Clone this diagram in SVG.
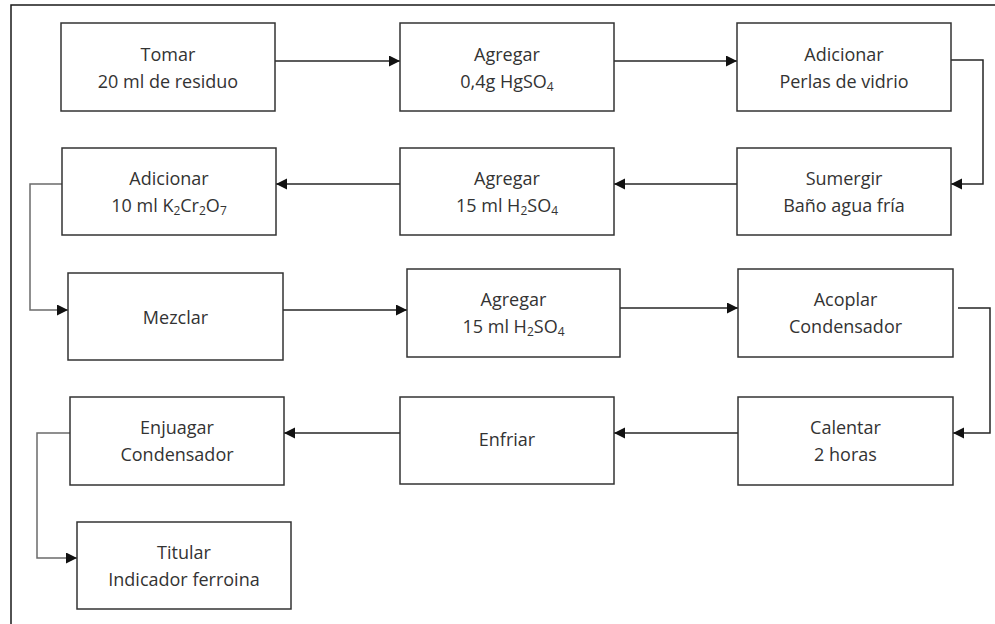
<svg xmlns="http://www.w3.org/2000/svg" width="995" height="624" viewBox="0 0 995 624">
<style>
.box{fill:#fff;stroke:#333;stroke-width:1.5}
.t{font-family:"Open Sans","Liberation Sans",sans-serif;font-size:18px;fill:#333;text-anchor:middle}
.s{font-size:12px}
.c{fill:none;stroke:#262626;stroke-width:1.5;marker-end:url(#ah)}
.g{stroke:#6b6b6b}
.frame{fill:none;stroke:#1a1a1a;stroke-width:1.5}
</style>
<defs>
<marker id="ah" markerUnits="userSpaceOnUse" markerWidth="12" markerHeight="12" refX="11" refY="5.5" orient="auto">
<path d="M0,0 L11,5.5 L0,11 z" fill="#111"/>
</marker>
</defs>
<rect width="995" height="624" fill="#fff"/>
<path class="frame" d="M11,624 L11,5 L995,5"/>
<g id="connectors">
<path class="c" d="M275,61 H400"/>
<path class="c" d="M614,61 H737"/>
<path class="c" d="M951,60 H983 V184 H951"/>
<path class="c" d="M737,184 H614"/>
<path class="c" d="M400,184 H276"/>
<path class="c g" d="M62,184 H30 V310 H68"/>
<path class="c" d="M283,310 H407"/>
<path class="c" d="M620,308 H738"/>
<path class="c" d="M958,308 H990 V433 H953"/>
<path class="c" d="M738,433 H614"/>
<path class="c" d="M407,433 H284"/>
<path class="c g" d="M70,433 H37 V558 H77"/>
</g>
<g id="n1"><rect class="box" x="61" y="23" width="214" height="88"/>
<text class="t" x="168" y="61">Tomar</text><text class="t" x="168" y="88">20 ml de residuo</text></g>
<g id="n2"><rect class="box" x="400" y="23" width="214" height="88"/>
<text class="t" x="507" y="61">Agregar</text><text class="t" x="507" y="88">0,4g HgSO<tspan class="s" dy="3">4</tspan></text></g>
<g id="n3"><rect class="box" x="737" y="23" width="214" height="88"/>
<text class="t" x="844" y="61">Adicionar</text><text class="t" x="844" y="88">Perlas de vidrio</text></g>
<g id="n4"><rect class="box" x="737" y="148" width="214" height="87"/>
<text class="t" x="844" y="185">Sumergir</text><text class="t" x="844" y="212">Baño agua fría</text></g>
<g id="n5"><rect class="box" x="400" y="148" width="214" height="87"/>
<text class="t" x="507" y="185">Agregar</text><text class="t" x="507" y="212">15 ml H<tspan class="s" dy="3">2</tspan><tspan dy="-3">SO</tspan><tspan class="s" dy="3">4</tspan></text></g>
<g id="n6"><rect class="box" x="62" y="148" width="214" height="87"/>
<text class="t" x="169" y="185">Adicionar</text><text class="t" x="169" y="212">10 ml K<tspan class="s" dy="3">2</tspan><tspan dy="-3">Cr</tspan><tspan class="s" dy="3">2</tspan><tspan dy="-3">O</tspan><tspan class="s" dy="3">7</tspan></text></g>
<g id="n7"><rect class="box" x="68" y="273" width="215" height="87"/>
<text class="t" x="175.5" y="324">Mezclar</text></g>
<g id="n8"><rect class="box" x="407" y="269" width="213" height="88"/>
<text class="t" x="513.5" y="306">Agregar</text><text class="t" x="513.5" y="333">15 ml H<tspan class="s" dy="3">2</tspan><tspan dy="-3">SO</tspan><tspan class="s" dy="3">4</tspan></text></g>
<g id="n9"><rect class="box" x="738" y="269" width="215" height="88"/>
<text class="t" x="845.5" y="306">Acoplar</text><text class="t" x="845.5" y="333">Condensador</text></g>
<g id="n10"><rect class="box" x="738" y="397" width="215" height="88"/>
<text class="t" x="845.5" y="434">Calentar</text><text class="t" x="845.5" y="461">2 horas</text></g>
<g id="n11"><rect class="box" x="400" y="397" width="214" height="87"/>
<text class="t" x="507" y="446">Enfriar</text></g>
<g id="n12"><rect class="box" x="70" y="397" width="214" height="88"/>
<text class="t" x="177" y="434">Enjuagar</text><text class="t" x="177" y="461">Condensador</text></g>
<g id="n13"><rect class="box" x="77" y="522" width="214" height="87"/>
<text class="t" x="184" y="559">Titular</text><text class="t" x="184" y="586">Indicador ferroina</text></g>
</svg>
